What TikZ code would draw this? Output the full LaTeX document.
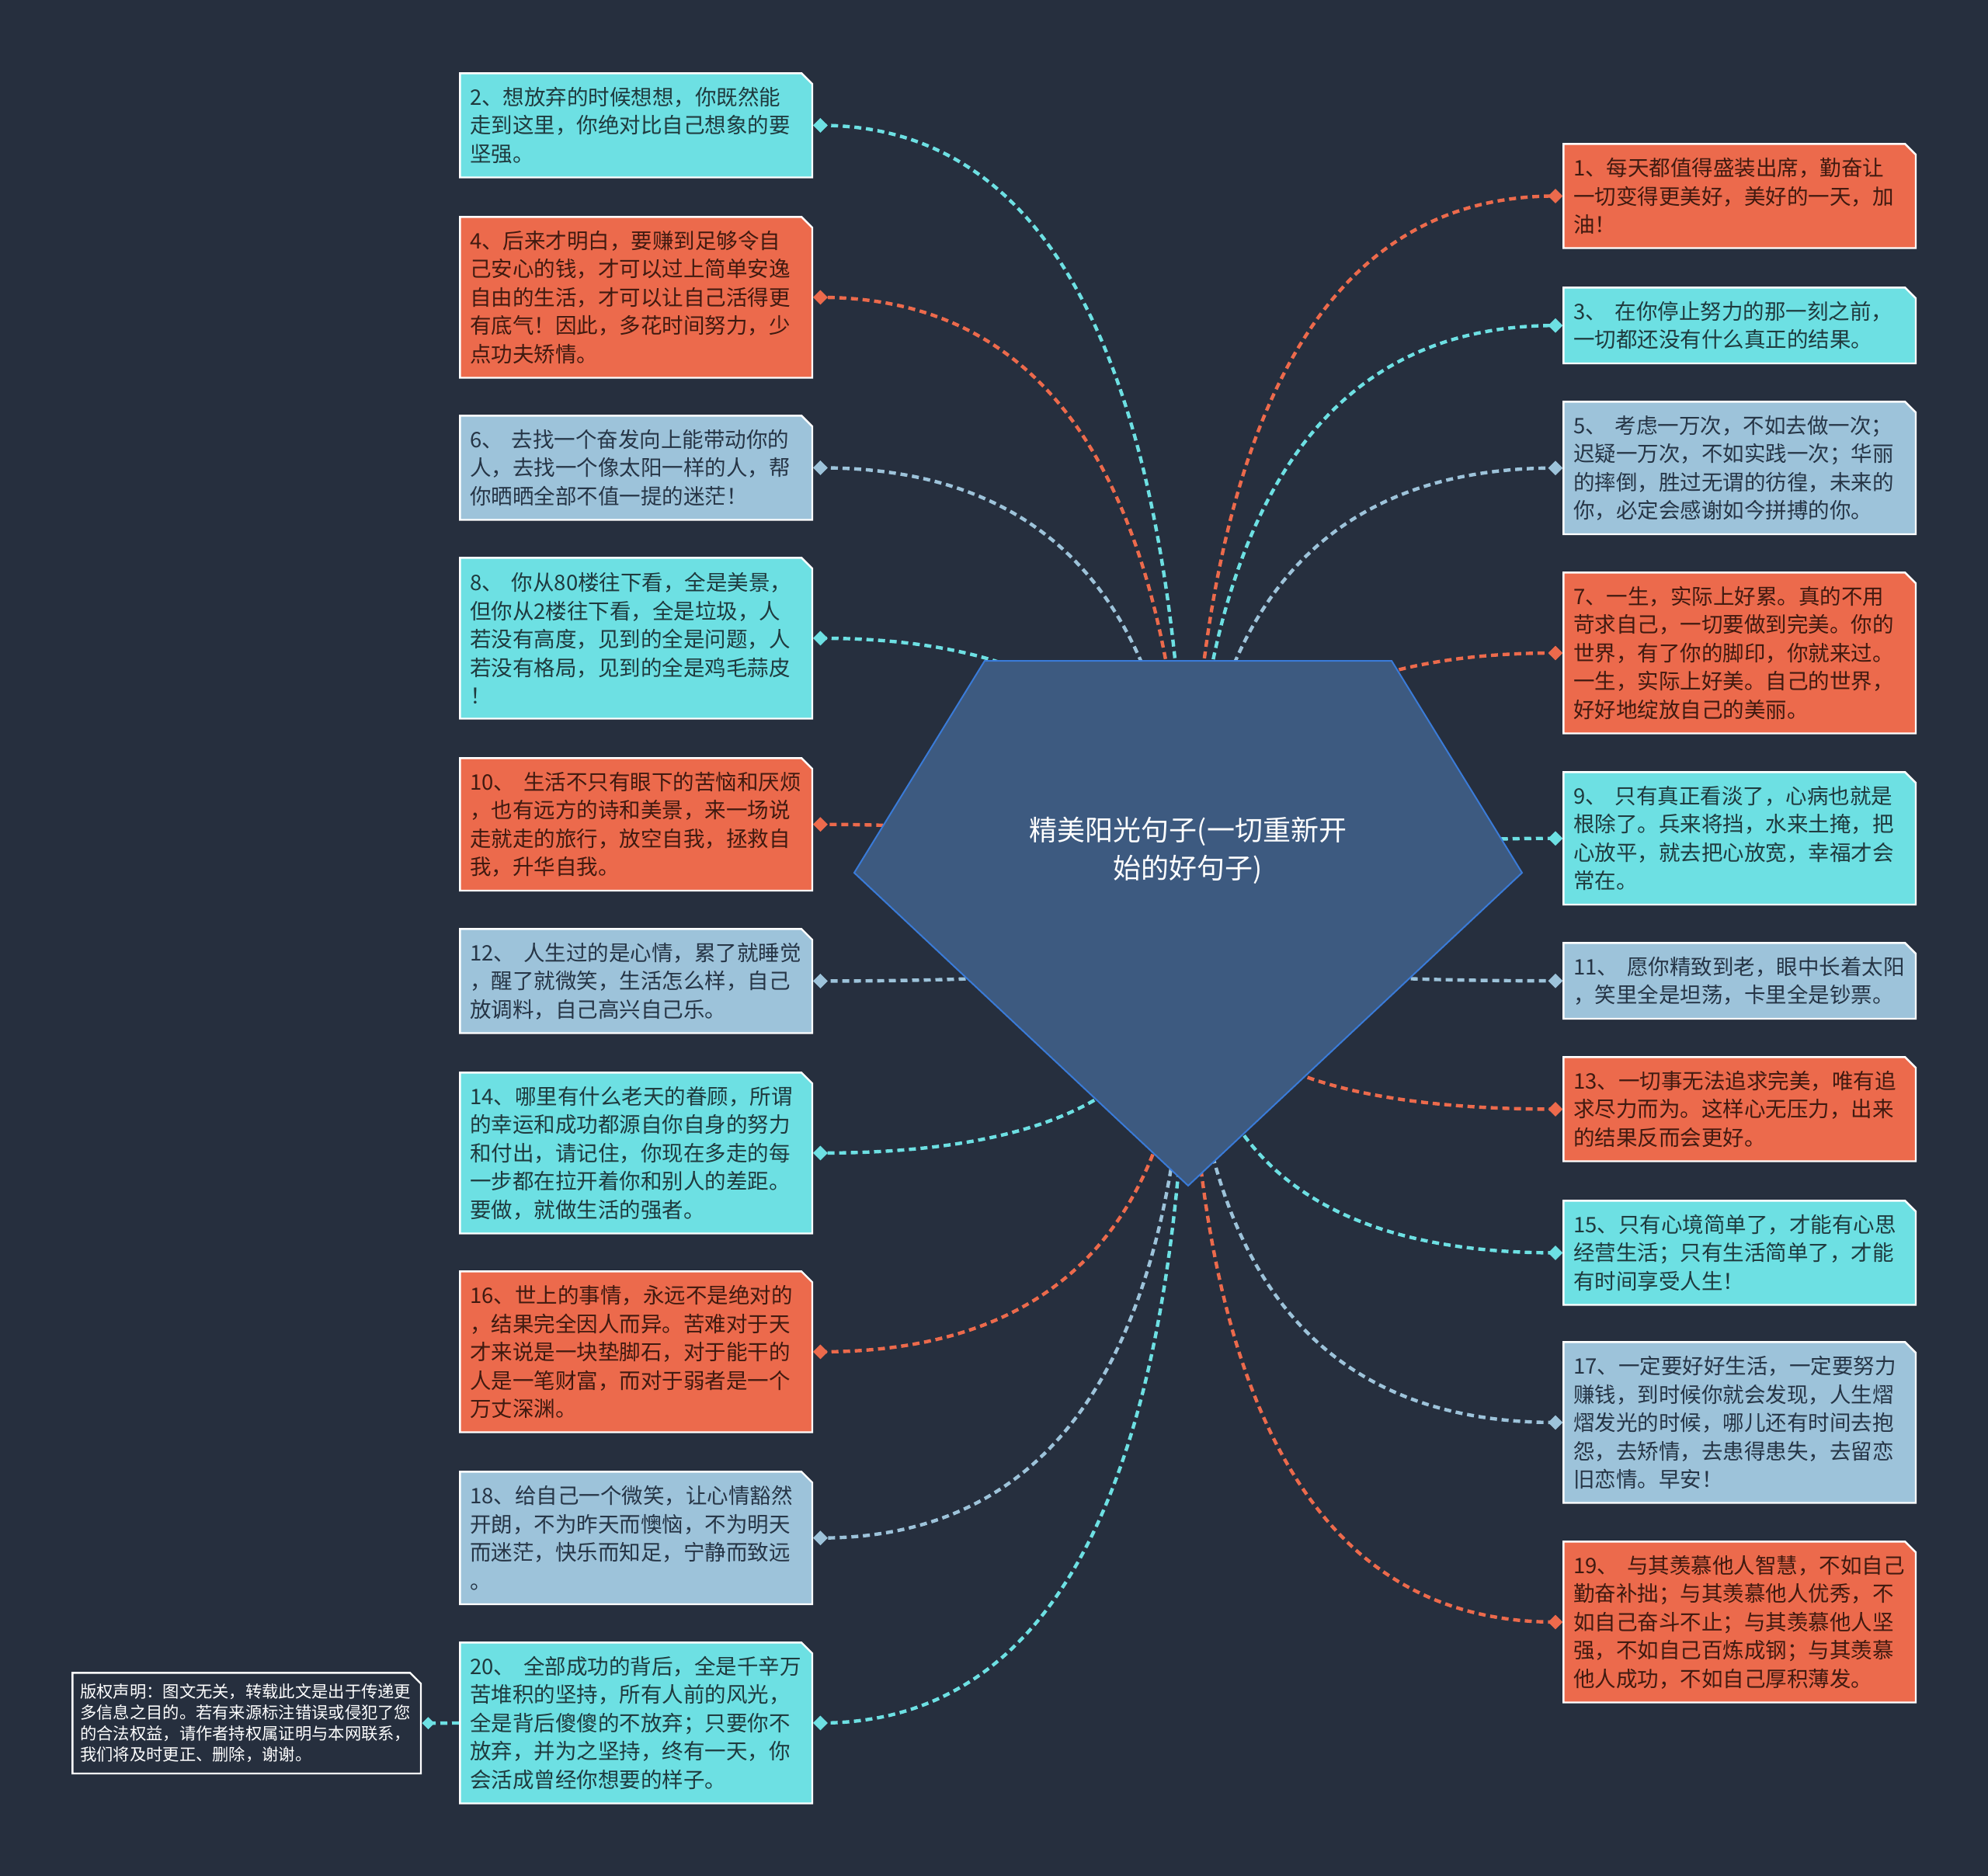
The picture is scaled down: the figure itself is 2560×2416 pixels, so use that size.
\documentclass[tikz,border=0pt]{standalone}
\usepackage{fontspec}
\setmainfont{Noto Sans CJK SC}
\usetikzlibrary{calc,shapes.geometric}
\definecolor{bgc}{HTML}{262F3E}
\definecolor{cyc}{HTML}{6DE0E3}
\definecolor{orc}{HTML}{EC6A4C}
\definecolor{lbc}{HTML}{9DC3DA}
\definecolor{cyt}{HTML}{1F3A3E}
\definecolor{ort}{HTML}{401A10}
\definecolor{lbt}{HTML}{263546}
\definecolor{pfill}{HTML}{3D5A80}
\definecolor{pdraw}{HTML}{3A7BD8}
\newcommand\qgap{\kern11pt\relax}
\newcommand\chamf[1]{\path[fill=#1,draw=white,line width=2.4pt]
 ([xshift=1.2pt,yshift=1.2pt]path picture bounding box.south west) --
 ([xshift=1.2pt,yshift=-1.2pt]path picture bounding box.north west) --
 ([xshift=-15pt,yshift=-1.2pt]path picture bounding box.north east) --
 ([xshift=-1.2pt,yshift=-15pt]path picture bounding box.north east) --
 ([xshift=-1.2pt,yshift=1.2pt]path picture bounding box.south east) -- cycle;}
\tikzset{
 tb/.style={rectangle, anchor=north west, inner xsep=14pt, inner ysep=0pt,
   text width=428pt, minimum width=456pt, align=left,
   font=\fontsize{27.5pt}{36.5pt}\selectfont},
 kc/.style={text=cyt, path picture={\chamf{cyc}}},
 ko/.style={text=ort, path picture={\chamf{orc}}},
 kl/.style={text=lbt, path picture={\chamf{lbc}}},
 cb/.style={rectangle, anchor=north west, inner xsep=11pt, inner ysep=0pt,
   text width=429pt, minimum width=451pt, minimum height=132pt, align=left,
   text=white, font=\fontsize{21.3pt}{27pt}\selectfont, path picture={\chamf{bgc}}},
 dia/.style={diamond, inner sep=0pt, minimum width=19pt, minimum height=19pt, draw=none},
 conn/.style={line width=4.4pt, dash pattern=on 9pt off 6pt},
}
\newcommand\tbox[6]{\node[tb,#5,minimum height={27+36.5*#4}] (#1) at (#2,#3) {#6};}
\newcommand\ldia[2]{\node[dia,fill=#2] (d#1) at ([xshift=9pt]b#1.east) {};}
\newcommand\rdia[2]{\node[dia,fill=#2] (d#1) at ([xshift=-9pt]b#1.west) {};}
\newcommand\link[2]{\draw[conn,#1] (hub) .. controls ($(hub)!0.6667!(hub |- #2)$) and ($(#2)!0.6667!(hub |- #2)$) .. (#2.center);}
\begin{document}
\begin{tikzpicture}[x=1pt,y=-1pt]
\useasboundingbox (0,0) rectangle (2560,2416);
\fill[bgc] (0,0) rectangle (2560,2416);
% left boxes
\tbox{b2}{591}{93}{3}{kc}{2、想放弃的时候想想，你既然能\\走到这里，你绝对比自己想象的要\\坚强。}
\tbox{b4}{591}{278}{5}{ko}{4、后来才明白，要赚到足够令自\\己安心的钱，才可以过上简单安逸\\自由的生活，才可以让自己活得更\\有底气！因此，多花时间努力，少\\点功夫矫情。}
\tbox{b6}{591}{534}{3}{kl}{6、\qgap 去找一个奋发向上能带动你的\\人，去找一个像太阳一样的人，帮\\你晒晒全部不值一提的迷茫！}
\tbox{b8}{591}{717}{5}{kc}{8、\qgap 你从80楼往下看，全是美景，\\但你从2楼往下看，全是垃圾，人\\若没有高度，见到的全是问题，人\\若没有格局，见到的全是鸡毛蒜皮\\！}
\tbox{b10}{591}{975}{4}{ko}{10、\qgap 生活不只有眼下的苦恼和厌烦\\，也有远方的诗和美景，来一场说\\走就走的旅行，放空自我，拯救自\\我，升华自我。}
\tbox{b12}{591}{1195}{3}{kl}{12、\qgap 人生过的是心情，累了就睡觉\\，醒了就微笑，生活怎么样，自己\\放调料，自己高兴自己乐。}
\tbox{b14}{591}{1380}{5}{kc}{14、哪里有什么老天的眷顾，所谓\\的幸运和成功都源自你自身的努力\\和付出，请记住，你现在多走的每\\一步都在拉开着你和别人的差距。\\要做，就做生活的强者。}
\tbox{b16}{591}{1636}{5}{ko}{16、世上的事情，永远不是绝对的\\，结果完全因人而异。苦难对于天\\才来说是一块垫脚石，对于能干的\\人是一笔财富，而对于弱者是一个\\万丈深渊。}
\tbox{b18}{591}{1894}{4}{kl}{18、给自己一个微笑，让心情豁然\\开朗，不为昨天而懊恼，不为明天\\而迷茫，快乐而知足，宁静而致远\\。}
\tbox{b20}{591}{2114}{5}{kc}{20、\qgap 全部成功的背后，全是千辛万\\苦堆积的坚持，所有人前的风光，\\全是背后傻傻的不放弃；只要你不\\放弃，并为之坚持，终有一天，你\\会活成曾经你想要的样子。}
% right boxes
\tbox{b1}{2012}{184}{3}{ko}{1、每天都值得盛装出席，勤奋让\\一切变得更美好，美好的一天，加\\油！}
\tbox{b3}{2012}{369}{2}{kc}{3、\qgap 在你停止努力的那一刻之前，\\一切都还没有什么真正的结果。}
\tbox{b5}{2012}{516}{4}{kl}{5、\qgap 考虑一万次，不如去做一次；\\迟疑一万次，不如实践一次；华丽\\的摔倒，胜过无谓的彷徨，未来的\\你，必定会感谢如今拼搏的你。}
\tbox{b7}{2012}{736}{5}{ko}{7、一生，实际上好累。真的不用\\苛求自己，一切要做到完美。你的\\世界，有了你的脚印，你就来过。\\一生，实际上好美。自己的世界，\\好好地绽放自己的美丽。}
\tbox{b9}{2012}{993}{4}{kc}{9、\qgap 只有真正看淡了，心病也就是\\根除了。兵来将挡，水来土掩，把\\心放平，就去把心放宽，幸福才会\\常在。}
\tbox{b11}{2012}{1213}{2}{kl}{11、\qgap 愿你精致到老，眼中长着太阳\\，笑里全是坦荡，卡里全是钞票。}
\tbox{b13}{2012}{1360}{3}{ko}{13、一切事无法追求完美，唯有追\\求尽力而为。这样心无压力，出来\\的结果反而会更好。}
\tbox{b15}{2012}{1545}{3}{kc}{15、只有心境简单了，才能有心思\\经营生活；只有生活简单了，才能\\有时间享受人生！}
\tbox{b17}{2012}{1727}{5}{kl}{17、一定要好好生活，一定要努力\\赚钱，到时候你就会发现，人生熠\\熠发光的时候，哪儿还有时间去抱\\怨，去矫情，去患得患失，去留恋\\旧恋情。早安！}
\tbox{b19}{2012}{1984}{5}{ko}{19、\qgap 与其羡慕他人智慧，不如自己\\勤奋补拙；与其羡慕他人优秀，不\\如自己奋斗不止；与其羡慕他人坚\\强，不如自己百炼成钢；与其羡慕\\他人成功，不如自己厚积薄发。}
% copyright
\node[cb] (cr) at (92,2153) {版权声明：图文无关，转载此文是出于传递更\\多信息之目的。若有来源标注错误或侵犯了您\\的合法权益，请作者持权属证明与本网联系，\\我们将及时更正、删除，谢谢。};
\node[dia,fill=cyc,minimum width=16pt,minimum height=16pt] (dcr) at ([xshift=8pt]cr.east) {};
\draw[conn,cyc] (b20.west) -- (dcr.center);
% diamonds
\ldia{2}{cyc}\ldia{4}{orc}\ldia{6}{lbc}\ldia{8}{cyc}\ldia{10}{orc}
\ldia{12}{lbc}\ldia{14}{cyc}\ldia{16}{orc}\ldia{18}{lbc}\ldia{20}{cyc}
\rdia{1}{orc}\rdia{3}{cyc}\rdia{5}{lbc}\rdia{7}{orc}\rdia{9}{cyc}
\rdia{11}{lbc}\rdia{13}{orc}\rdia{15}{cyc}\rdia{17}{lbc}\rdia{19}{orc}
% connectors
\coordinate (hub) at (1530,1207);
\link{cyc}{d2}\link{orc}{d4}\link{lbc}{d6}\link{cyc}{d8}\link{orc}{d10}
\link{lbc}{d12}\link{cyc}{d14}\link{orc}{d16}\link{lbc}{d18}\link{cyc}{d20}
\link{orc}{d1}\link{cyc}{d3}\link{lbc}{d5}\link{orc}{d7}\link{cyc}{d9}
\link{lbc}{d11}\link{orc}{d13}\link{cyc}{d15}\link{lbc}{d17}\link{orc}{d19}
% central pentagon
\filldraw[fill=pfill, draw=pdraw, line width=2pt] (1268,851) -- (1792,851) -- (1960,1124) -- (1530,1527) -- (1100,1124) -- cycle;
\node[text=white, align=center, font=\fontsize{36pt}{49pt}\selectfont] (c) at (1530,1095) {精美阳光句子(一切重新开\\始的好句子)};
\end{tikzpicture}
\end{document}
